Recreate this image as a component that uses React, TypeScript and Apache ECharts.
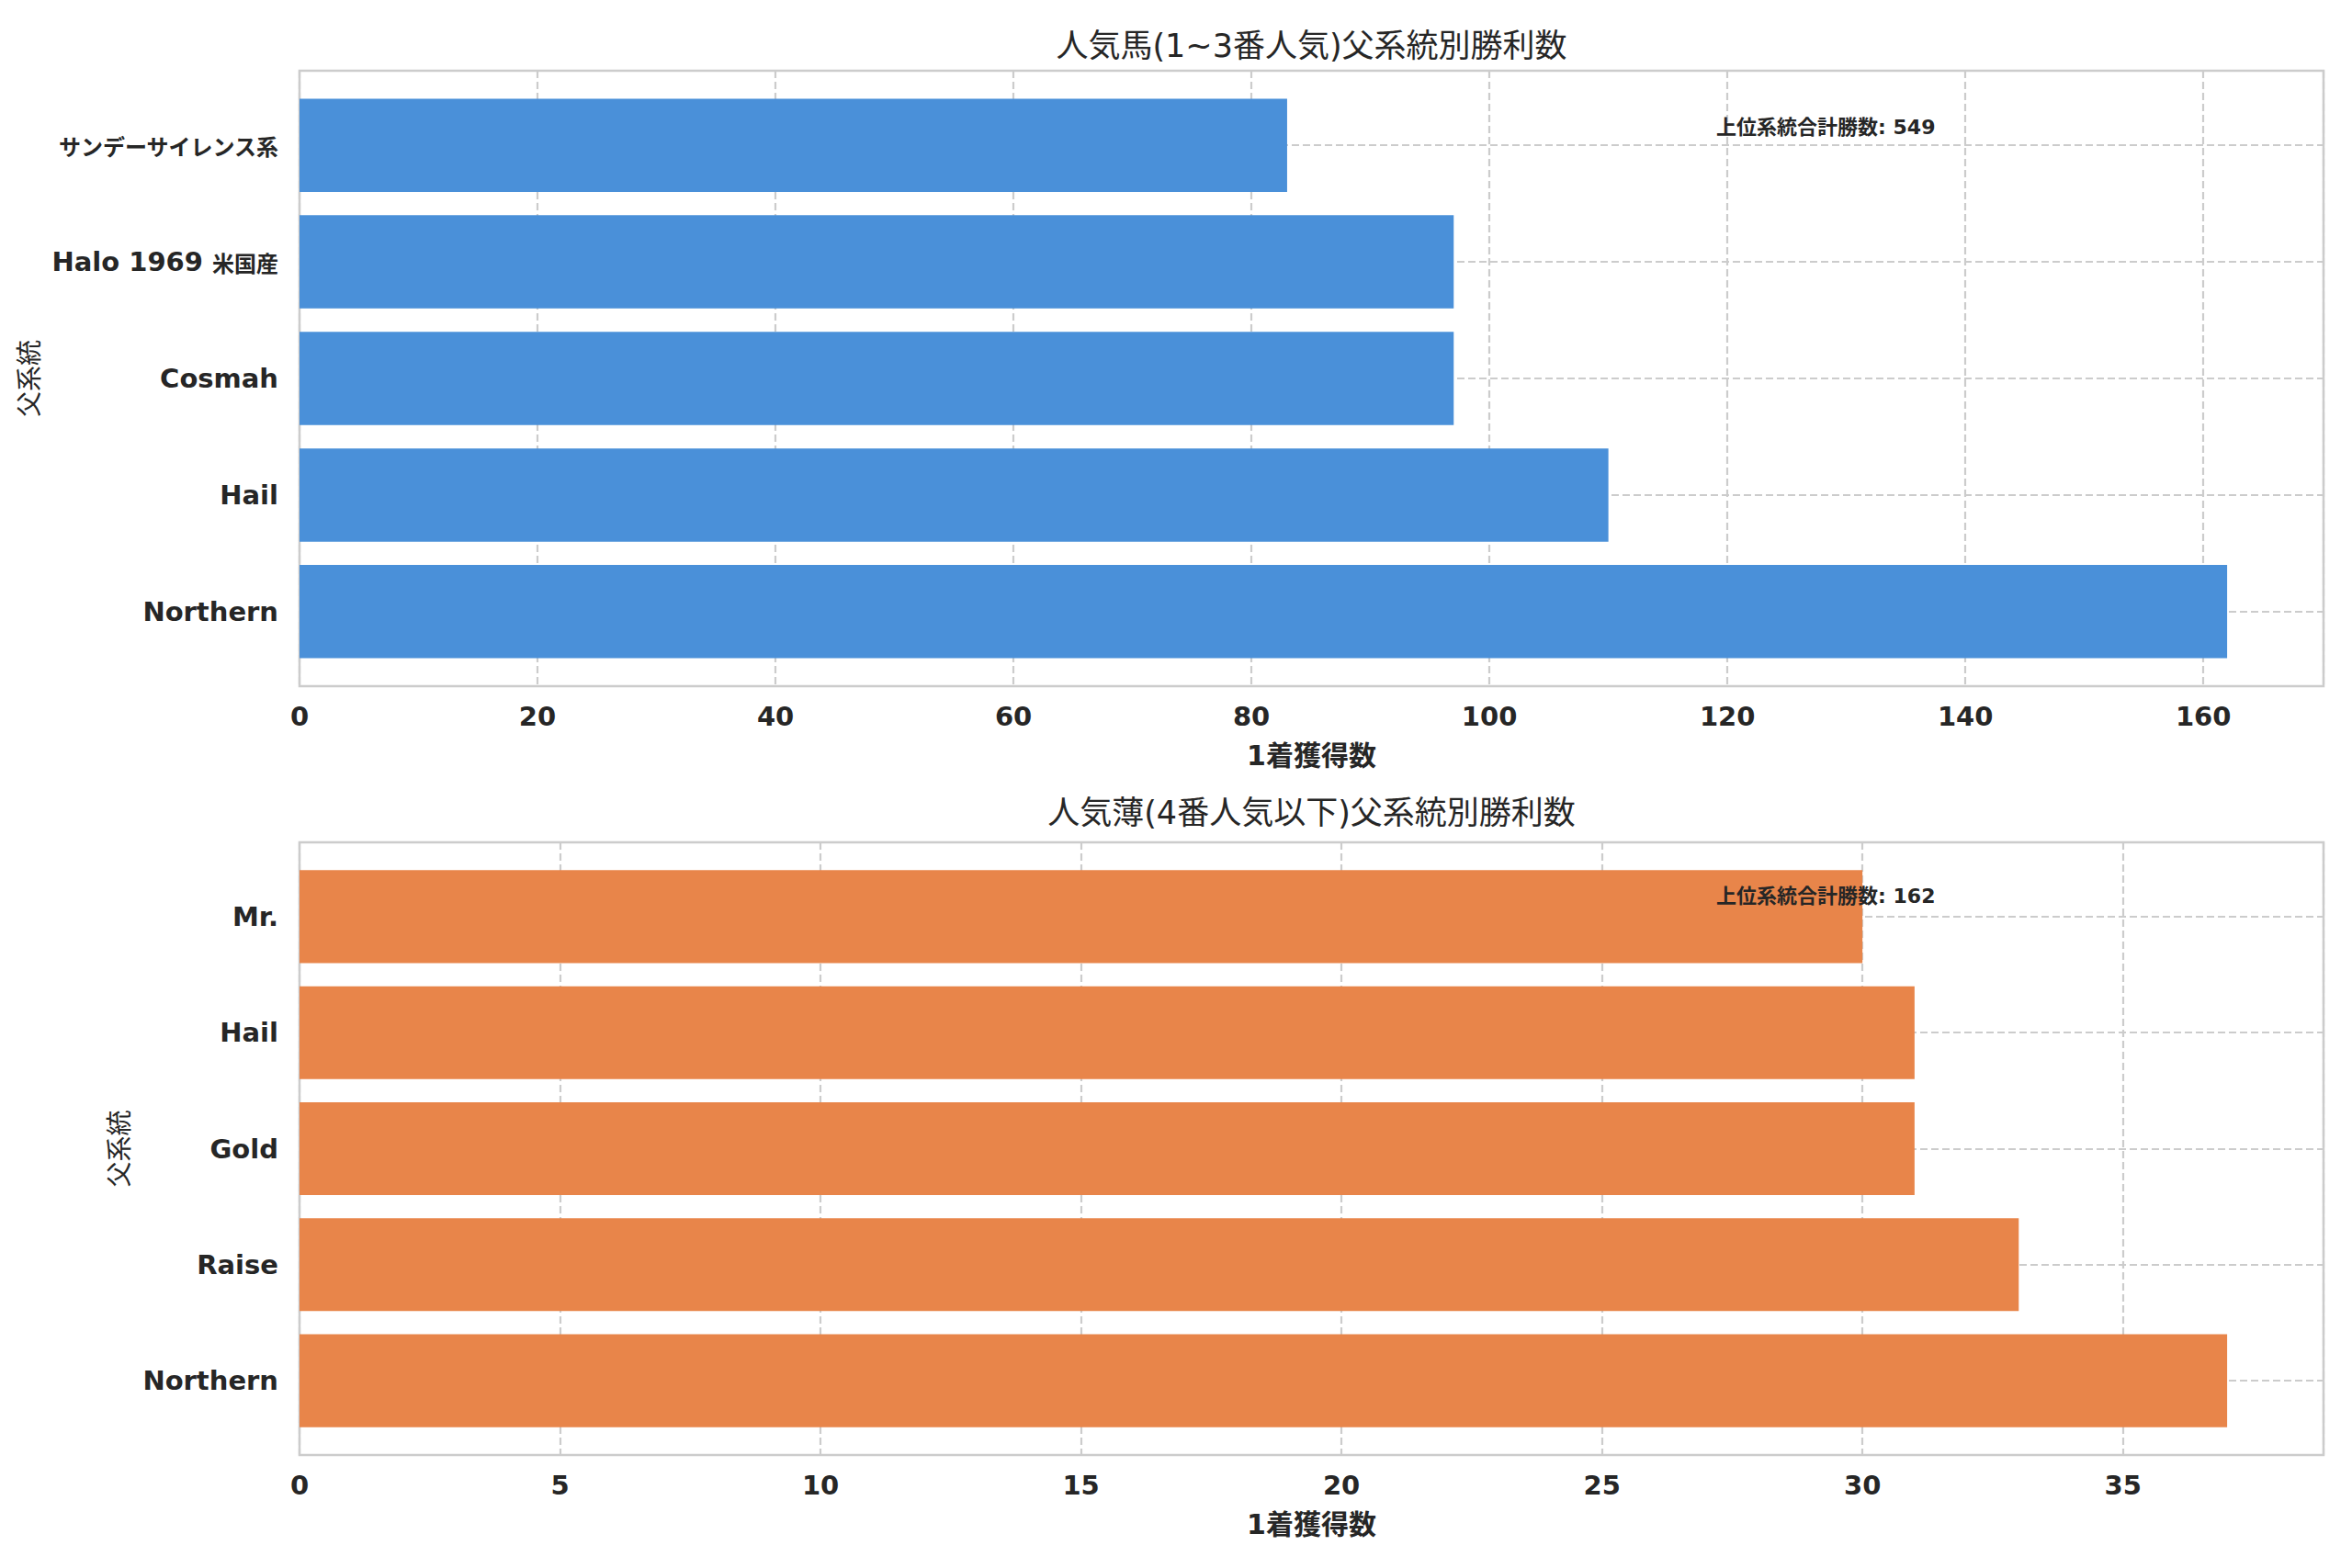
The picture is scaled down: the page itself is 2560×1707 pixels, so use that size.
import React, { useEffect, useRef } from "react";
import * as echarts from "echarts";

// ---- data ----
const topTitle = "人気馬(1~3番人気)父系統別勝利数";
const bottomTitle = "人気薄(4番人気以下)父系統別勝利数";
const xName = "1着獲得数";
const yName = "父系統";
const totalLabel = "上位系統合計勝数";

const topCategories = ["サンデーサイレンス系", "Halo 1969 米国産", "Cosmah", "Hail", "Northern"];
const topValues = [83, 97, 97, 110, 162];
const topMax = 170.1;
const topInterval = 20;

const bottomCategories = ["Mr.", "Hail", "Gold", "Raise", "Northern"];
const bottomValues = [30, 31, 31, 33, 37];
const bottomMax = 38.85;
const bottomInterval = 5;

const sum = (a: number[]) => a.reduce((s, v) => s + v, 0);

const FONT = "'DejaVu Sans', 'Noto Sans CJK JP', sans-serif";
const CJK = "'Noto Sans CJK JP', 'DejaVu Sans', sans-serif";
const TXT = "#262626";
const GRIDC = "#cccccc";

const wrapCjk = (s: string) =>
  s.replace(/([\u3000-\u9fff\uff00-\uffef]+)/g, "{j|$1}");

export default function App() {
  const ref = useRef<HTMLDivElement>(null);
  useEffect(() => {
    document.body.style.margin = "0";
    if (!ref.current) return;
    const chart = echarts.init(ref.current, null, { renderer: "svg" });

    const L = 326;
    const W = 2203;
    const frames = [
      { top: 77, height: 670 },
      { top: 917, height: 667 },
    ];
    const barGrid = (f: { top: number; height: number }) => {
      const m = (0.14 / 5.28) * f.height;
      return { left: L, width: W, top: f.top + m, height: f.height - 2 * m, show: false };
    };

    const valueAxis = (gi: number, max: number, interval: number) => ({
      type: "value",
      gridIndex: gi,
      min: 0,
      max,
      interval,
      name: xName,
      nameLocation: "middle",
      nameGap: 60,
      nameTextStyle: { fontFamily: FONT, fontSize: 30, fontWeight: "bold", color: TXT },
      axisLine: { show: false },
      axisTick: { show: false },
      axisLabel: {
        show: true,
        showMaxLabel: false,
        margin: 18,
        fontFamily: FONT,
        fontSize: 29,
        fontWeight: "bold",
        color: TXT,
      },
      splitLine: { show: true, lineStyle: { color: GRIDC, width: 2.2, type: [8, 4] } },
    });
    const hiddenX = (gi: number, max: number) => ({
      type: "value",
      gridIndex: gi,
      min: 0,
      max,
      show: false,
    });
    const hiddenY = (gi: number) => ({ type: "value", gridIndex: gi, min: 0, max: 1, show: false });
    const catAxis = (gi: number, data: string[], nameGap: number) => ({
      type: "category",
      gridIndex: gi,
      data,
      inverse: true,
      name: yName,
      nameLocation: "middle",
      nameGap,
      nameTextStyle: { fontFamily: CJK, fontSize: 28, fontWeight: "normal", color: TXT },
      axisLine: { show: false },
      axisTick: { show: false },
      axisLabel: {
        margin: 23,
        fontFamily: FONT,
        fontSize: 29,
        fontWeight: "bold",
        color: TXT,
        formatter: (v: string) => wrapCjk(v),
        rich: {
          j: { fontFamily: CJK, fontSize: 24, fontWeight: "bold", color: TXT },
        },
      },
      splitLine: {
        show: true,
        alignWithLabel: true,
        lineStyle: { color: GRIDC, width: 2.2, type: [8, 4] },
      },
    });

    const option: any = {
      animation: false,
      backgroundColor: "#ffffff",
      title: [
        {
          text: topTitle,
          left: L + W / 2,
          top: 32,
          padding: 0,
          textAlign: "center",
          textStyle: { fontFamily: FONT, fontSize: 35, fontWeight: "normal", color: TXT },
        },
        {
          text: bottomTitle,
          left: L + W / 2,
          top: 867,
          padding: 0,
          textAlign: "center",
          textStyle: { fontFamily: FONT, fontSize: 35, fontWeight: "normal", color: TXT },
        },
      ],
      grid: [
        { left: L, width: W, top: frames[0].top, height: frames[0].height, show: true, borderColor: "#cccccc", borderWidth: 2.5, backgroundColor: "rgba(0,0,0,0)" },
        barGrid(frames[0]),
        { left: L, width: W, top: frames[1].top, height: frames[1].height, show: true, borderColor: "#cccccc", borderWidth: 2.5, backgroundColor: "rgba(0,0,0,0)" },
        barGrid(frames[1]),
      ],
      xAxis: [
        valueAxis(0, topMax, topInterval),
        hiddenX(1, topMax),
        valueAxis(2, bottomMax, bottomInterval),
        hiddenX(3, bottomMax),
      ],
      yAxis: [
        hiddenY(0),
        catAxis(1, topCategories, 282),
        hiddenY(2),
        catAxis(3, bottomCategories, 184),
      ],
      series: [
        {
          type: "bar",
          xAxisIndex: 1,
          yAxisIndex: 1,
          data: topValues,
          barWidth: "80%",
          itemStyle: { color: "#4a90d9" },
          z: 3,
        },
        {
          type: "bar",
          xAxisIndex: 3,
          yAxisIndex: 3,
          data: bottomValues,
          barWidth: "80%",
          itemStyle: { color: "#e8854a" },
          z: 3,
        },
      ],
      graphic: [
        {
          type: "text",
          left: L + 0.7 * W,
          top: 127,
          z: 10,
          style: {
            text: `${totalLabel}: ${sum(topValues)}`,
            font: `bold 22px ${FONT}`,
            fill: TXT,
          },
        },
        {
          type: "text",
          left: L + 0.7 * W,
          top: 964,
          z: 10,
          style: {
            text: `${totalLabel}: ${sum(bottomValues)}`,
            font: `bold 22px ${FONT}`,
            fill: TXT,
          },
        },
      ],
    };
    chart.setOption(option);
    return () => chart.dispose();
  }, []);
  return <div ref={ref} style={{ width: 2560, height: 1707 }} />;
}
